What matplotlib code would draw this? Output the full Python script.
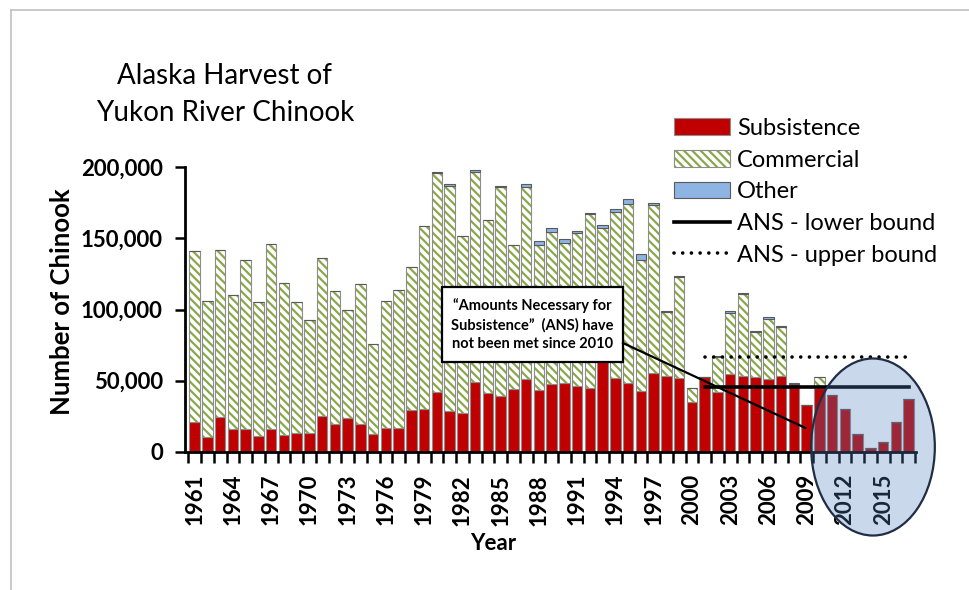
import numpy as np
import matplotlib
matplotlib.use('Agg')
import matplotlib.pyplot as plt
from matplotlib.patches import Ellipse, Rectangle, Patch
from matplotlib.lines import Line2D

# harvest numbers
years = list(range(1961, 2018))
subsistence = [21000, 10500, 24500, 15700, 15700, 11000, 15700, 11400, 13200, 13200,
               25000, 19500, 23500, 19200, 12300, 17000, 17000, 29400, 30300, 41800,
               28700, 27200, 48800, 41500, 39000, 44300, 51000, 43400, 47800, 48000,
               46000, 45000, 64000, 52000, 48000, 43000, 55000, 53000, 51600, 35000,
               52500, 42000, 54600, 53200, 52300, 50900, 53200, 47600, 33000, 45000,
               39800, 29800, 12200, 2800, 7000, 21000, 36800]
commercial = [120000, 95500, 117500, 94300, 119300, 94000, 130300, 107200, 91800, 79400,
              111000, 93500, 76100, 98800, 63700, 89000, 97000, 100600, 128700, 154200,
              158300, 124800, 148200, 121500, 147000, 100800, 135500, 102100, 106700, 98600,
              108000, 122000, 93600, 116700, 126200, 92000, 118200, 45500, 71100, 9600,
              0, 24800, 42600, 57600, 32200, 42600, 34300, 0, 0, 7500,
              0, 0, 0, 0, 0, 0, 0]
other = [0, 0, 0, 0, 0, 0, 0, 0, 0, 0,
         0, 0, 0, 0, 0, 0, 0, 0, 0, 1000,
         1000, 0, 1000, 0, 1000, 500, 1500, 2500, 3000, 3000,
         1000, 1000, 2000, 2000, 3500, 4000, 1500, 500, 1000, 0,
         0, 500, 2000, 1000, 500, 1000, 1000, 900, 0, 0,
         0, 0, 0, 0, 0, 0, 0]
ans_years = list(range(2001, 2018))
ans_lower = 45500
ans_upper = 66704
label_years = years[::3]
yticks = [0, 50000, 100000, 150000, 200000]

plt.rcParams['font.family'] = ['Lato', 'DejaVu Sans']
plt.rcParams['hatch.linewidth'] = 1.6

red = '#C00000'
green = '#8AA84A'
blue = '#8DB4E2'
gray = '#8C8C8C'

fig = plt.figure(figsize=(9.69, 5.9), dpi=100)
ax = fig.add_axes([0.191, 0.2344, 0.754, 0.482])

x = np.arange(len(years))
sub = np.array(subsistence)
com = np.array(commercial)
oth = np.array(other)
w = 0.82

ax.bar(x, sub, w, color=red, edgecolor=gray, lw=0.8, zorder=2)
ax.bar(x, com, w, bottom=sub, color='white', edgecolor=green, hatch='\\\\\\\\', lw=0, zorder=2)
ax.bar(x, com, w, bottom=sub, fill=False, edgecolor=gray, lw=0.8, zorder=2)
ax.bar(x, oth, w, bottom=sub + com, color=blue, edgecolor='#5A5A5A', lw=0.8, zorder=2)

# ANS range
xa = [years.index(y) for y in ans_years]
ax.plot(xa, [ans_lower] * len(xa), color='black', lw=2.6, zorder=4)
ax.plot(xa, [ans_upper] * len(xa), color='black', lw=2.6, ls=(0, (0.01, 2.4)),
        dash_capstyle='round', zorder=4)

# callout box
ax.add_patch(Rectangle((19.4, 63000), 14.2, 52800, fc='white', ec='black', lw=1.6, zorder=6))
ax.text(26.5, 89400, '\u201cAmounts Necessary for\nSubsistence\u201d  (ANS) have\nnot been met since 2010',
        ha='center', va='center', fontsize=10.5, fontweight='bold', linespacing=1.45, zorder=7)
ax.plot([33.6, 47.9], [76400, 16700], color='black', lw=1.6, zorder=6)

# highlight of recent years
ax.add_patch(Ellipse((53.2, 3300), 9.7, 124500, fc=(0.31, 0.506, 0.741, 0.3),
                     ec='#1F2D45', lw=1.6, clip_on=False, zorder=8))

ax.set_xlim(-0.75, 56.55)
ax.set_ylim(0, 200000)
ax.set_yticks(yticks, labels=[f'{v:,}' for v in yticks], fontsize=16, fontweight='bold')
ax.tick_params(axis='y', length=7, width=1.8, pad=9)
ax.set_xticks(np.arange(-0.5, len(years), 1))
ax.tick_params(axis='x', which='major', length=8, width=1.8, labelbottom=False)
ax.set_xticks([years.index(y) for y in label_years], labels=[str(y) for y in label_years],
              minor=True, rotation=90, fontsize=16, fontweight='bold')
ax.tick_params(axis='x', which='minor', length=0, pad=16)
for s in ['top', 'right']:
    ax.spines[s].set_visible(False)
for s in ['left', 'bottom']:
    ax.spines[s].set_linewidth(2)

handles = [Patch(fc=red, ec=gray, lw=0.8),
           (Patch(fc='white', ec=green, hatch='\\\\\\\\', lw=0), Patch(fill=False, ec=gray, lw=0.8)),
           Patch(fc=blue, ec='#5A5A5A', lw=0.8),
           Line2D([], [], color='black', lw=2.6),
           Line2D([], [], color='black', lw=2.6, ls=(0, (0.01, 2.4)), dash_capstyle='round')]
labels = ['Subsistence', 'Commercial', 'Other', 'ANS - lower bound', 'ANS - upper bound']
fig.legend(handles, labels, loc='upper left', bbox_to_anchor=(0.696, 0.80), frameon=False,
           fontsize=17, handlelength=2.35, handletextpad=0.3, labelspacing=0.45,
           borderaxespad=0, borderpad=0)

fig.text(0.232, 0.84, 'Alaska Harvest of\nYukon River Chinook', ha='center', va='center',
         fontsize=20, linespacing=1.5)
fig.text(0.064, 0.488, 'Number of Chinook', rotation=90, ha='center', va='center',
         fontsize=18.5, fontweight='bold')
fig.text(0.509, 0.078, 'Year', ha='center', va='center', fontsize=16, fontweight='bold')

# light frame at top and left
fig.add_artist(Line2D([11 / 969, 1], [1 - 10 / 590, 1 - 10 / 590], color='#C0C0C0', lw=1.2))
fig.add_artist(Line2D([11 / 969, 11 / 969], [0, 1 - 10 / 590], color='#C0C0C0', lw=1.2))

fig.savefig('out.png', dpi=100)
